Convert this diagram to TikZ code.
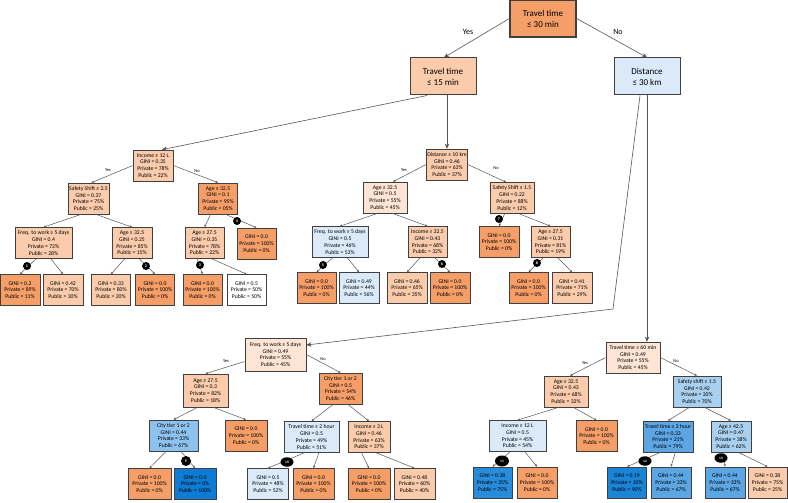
\documentclass[tikz,border=0pt]{standalone}
\usepackage{fontspec}
\setmainfont{Carlito}
\usetikzlibrary{arrows.meta,shapes.geometric}
\definecolor{bordc}{RGB}{64,64,64}
\definecolor{edgec}{RGB}{85,85,85}
\definecolor{dor}{RGB}{246,158,104}
\definecolor{lor}{RGB}{251,204,172}
\definecolor{vlor}{RGB}{253,228,212}
\definecolor{vlb}{RGB}{218,234,248}
\definecolor{lb}{RGB}{170,208,240}
\definecolor{mbl}{RGB}{142,194,238}
\definecolor{mb}{RGB}{92,166,227}
\definecolor{db}{RGB}{14,124,212}
\definecolor{db2}{RGB}{40,140,218}
\definecolor{db3}{RGB}{26,132,215}
\begin{document}
\begin{tikzpicture}[x=1pt,y=-1pt,
 box/.style={draw=bordc, line width=0.7pt, align=center, inner sep=0pt, font=\fontsize{5.7}{6.7}\selectfont, minimum height=31pt},
 bigbox/.style={draw=bordc, line width=1pt, align=center, inner sep=0pt, font=\fontsize{9}{11}\selectfont, minimum width=66pt, minimum height=37pt},
 conn/.style={draw=edgec, line width=0.5pt, -{Stealth[length=2.5pt,width=2.2pt]}},
 bigconn/.style={draw=edgec, line width=0.6pt, -{Stealth[length=5pt,width=4.5pt]}},
 numb/.style={fill=black, circle, inner sep=0pt, minimum size=8pt, text=white, font=\fontsize{4}{4}\selectfont\bfseries},
 numbb/.style={fill=black, ellipse, inner sep=0pt, minimum width=13pt, minimum height=9.5pt, text=white, font=\fontsize{3.5}{4}\selectfont\bfseries},
 lbl/.style={font=\fontsize{8}{9}\selectfont, inner sep=0pt},
 slbl/.style={font=\fontsize{4.5}{5}\selectfont, inner sep=0pt},
]
\useasboundingbox (0,0) rectangle (788,503);
\fill[white] (0,0) rectangle (788,503);

% top
\node[bigbox, fill=dor, line width=1.2pt] (R) at (543,18.5) {Travel time\\≤ 30 min};
\node[bigbox, fill=lor] (A) at (443,76.5) {Travel time\\≤ 15 min};
\node[bigbox, fill=vlb] (B) at (647,76.5) {Distance\\≤ 30 km};

% level 1
\node[box, fill=lor, minimum width=40pt] (C) at (153,165.5) {Income ≤ 12 L\\GINI = 0.35\\Private = 78\%\\Public = 22\%};
\node[box, fill=lor, minimum width=41pt] (D) at (447,164.5) {Distance ≤ 10 km\\GINI = 0.46\\Private = 63\%\\Public = 37\%};

% level 2
\node[box, fill=lor, minimum width=41pt] (E) at (88.5,198.5) {Safety Shift ≤ 2.5\\GINI = 0.37\\Private = 75\%\\Public = 25\%};
\node[box, fill=dor, minimum width=39pt] (F) at (218,198.5) {Age ≤ 32.5\\GINI = 0.1\\Private = 95\%\\Public = 05\%};
\node[box, fill=vlor, minimum width=44pt] (G) at (385,197.5) {Age ≤ 32.5\\GINI = 0.5\\Private = 55\%\\Public = 45\%};
\node[box, fill=lor, minimum width=44pt] (H) at (512,198) {Safety Shift ≤ 1.5\\GINI = 0.22\\Private = 88\%\\Public = 12\%};

% level 3
\node[box, fill=lor, minimum width=57pt] (I) at (43.5,243) {Freq. to work ≤ 5 days\\GINI = 0.4\\Private = 72\%\\Public = 28\%};
\node[box, fill=lor, minimum width=40pt] (J) at (132,243) {Age ≤ 32.5\\GINI = 0.25\\Private = 85\%\\Public = 15\%};
\node[box, fill=lor, minimum width=39pt] (K) at (204.5,243) {Age ≤ 27.5\\GINI = 0.35\\Private = 78\%\\Public = 22\%};
\node[box, fill=dor, minimum width=39pt] (L) at (256.5,243.5) {GINI = 0.0\\Private = 100\%\\Public = 0\%};
\node[box, fill=vlb, minimum width=56pt] (M) at (340,242) {Freq. to work ≤ 5 days\\GINI = 0.5\\Private = 46\%\\Public = 53\%};
\node[box, fill=lor, minimum width=39pt] (N) at (427.5,242) {Income ≤ 32.5\\GINI = 0.43\\Private = 68\%\\Public = 32\%};
\node[box, fill=dor, minimum width=40pt] (O) at (499,242) {GINI = 0.0\\Private = 100\%\\Public = 0\%};
\node[box, fill=lor, minimum width=39pt] (P) at (550.5,242) {Age ≤ 27.5\\GINI = 0.31\\Private = 81\%\\Public = 19\%};

% leaves row upper
\node[box, fill=dor, minimum width=40pt] (Q1) at (20,290) {GINI = 0.2\\Private = 89\%\\Public = 11\%};
\node[box, fill=lor, minimum width=40pt] (Q2) at (63,290) {GINI = 0.42\\Private = 70\%\\Public = 30\%};
\node[box, fill=lor, minimum width=39pt] (Q3) at (111,290) {GINI = 0.33\\Private = 80\%\\Public = 20\%};
\node[box, fill=dor, minimum width=39pt] (Q4) at (155,290) {GINI = 0.0\\Private = 100\%\\Public = 0\%};
\node[box, fill=dor, minimum width=39pt] (Q5) at (202.5,290) {GINI = 0.0\\Private = 100\%\\Public = 0\%};
\node[box, fill=white, minimum width=39pt] (Q6) at (246.5,290) {GINI = 0.5\\Private = 50\%\\Public = 50\%};
\node[box, fill=dor, minimum width=39pt] (Q7) at (316.5,288) {GINI = 0.0\\Private = 100\%\\Public = 0\%};
\node[box, fill=vlb, minimum width=40pt] (Q8) at (359,288) {GINI = 0.49\\Private = 44\%\\Public = 56\%};
\node[box, fill=lor, minimum width=40pt] (Q9) at (407,288) {GINI = 0.46\\Private = 65\%\\Public = 35\%};
\node[box, fill=dor, minimum width=40pt] (Q10) at (450,288) {GINI = 0.0\\Private = 100\%\\Public = 0\%};
\node[box, fill=dor, minimum width=39pt] (Q11) at (528.5,288) {GINI = 0.0\\Private = 100\%\\Public = 0\%};
\node[box, fill=lor, minimum width=40pt] (Q12) at (572,288) {GINI = 0.41\\Private = 71\%\\Public = 29\%};

% bottom subtree
\node[box, fill=vlor, minimum width=61pt, minimum height=33pt] (S) at (275.5,354.5) {Freq. to work ≤ 5 days\\GINI = 0.49\\Private = 55\%\\Public = 45\%};
\node[box, fill=vlor, minimum width=54pt] (T) at (633,357.5) {Travel time ≤ 60 min\\GINI = 0.49\\Private = 55\%\\Public = 45\%};

\node[box, fill=lor, minimum width=45pt, minimum height=33pt] (U) at (205.5,390.5) {Age ≤ 27.5\\GINI = 0.3\\Private = 82\%\\Public = 18\%};
\node[box, fill=dor, minimum width=43pt] (V) at (340.5,388.5) {City tier 1 or 2\\GINI = 0.5\\Private = 54\%\\Public = 46\%};
\node[box, fill=lor, minimum width=44pt] (W) at (566,391.5) {Age ≤ 32.5\\GINI = 0.43\\Private = 68\%\\Public = 32\%};
\node[box, fill=lb, minimum width=48pt] (X) at (697,391.5) {Safety shift ≤ 1.5\\GINI = 0.42\\Private = 30\%\\Public = 70\%};

\node[box, fill=mbl, minimum width=49pt] (Y1) at (173.5,435.5) {City tier 1 or 2\\GINI = 0.44\\Private = 33\%\\Public = 67\%};
\node[box, fill=dor, minimum width=42pt] (Y2) at (246,435.5) {GINI = 0.0\\Private = 100\%\\Public = 0\%};
\node[box, fill=vlb, minimum width=55pt] (Y3) at (311.5,437) {Travel time ≤ 2 hour\\GINI = 0.5\\Private = 49\%\\Public = 51\%};
\node[box, fill=lor, minimum width=42pt] (Y4) at (369,437) {Income ≤ 3 L\\GINI = 0.46\\Private = 63\%\\Public = 37\%};
\node[box, fill=vlb, minimum width=57pt] (Y5) at (517.5,436) {Income ≤ 12 L\\GINI = 0.5\\Private = 45\%\\Public = 54\%};
\node[box, fill=dor, minimum width=41pt] (Y6) at (596.5,436) {GINI = 0.0\\Private = 100\%\\Public = 0\%};
\node[box, fill=mb, minimum width=50pt] (Y7) at (668,436.5) {Travel time ≤ 2 hour\\GINI = 0.33\\Private = 21\%\\Public = 79\%};
\node[box, fill=lb, minimum width=40pt] (Y8) at (731,436.5) {Age ≤ 42.5\\GINI = 0.47\\Private = 38\%\\Public = 62\%};

\node[box, fill=dor, minimum width=43pt] (Z1) at (149.5,484) {GINI = 0.0\\Private = 100\%\\Public = 0\%};
\node[box, fill=db, minimum width=42pt] (Z2) at (195,484) {GINI = 0.0\\Private = 0\%\\Public = 100\%};
\node[box, fill=vlb, minimum width=41pt] (Z3) at (268,484) {GINI = 0.5\\Private = 48\%\\Public = 52\%};
\node[box, fill=dor, minimum width=41pt] (Z4) at (313.5,484) {GINI = 0.0\\Private = 100\%\\Public = 0\%};
\node[box, fill=dor, minimum width=42pt] (Z5) at (369,484) {GINI = 0.0\\Private = 100\%\\Public = 0\%};
\node[box, fill=lor, minimum width=41pt] (Z6) at (414.5,484) {GINI = 0.48\\Private = 60\%\\Public = 40\%};
\node[box, fill=db2, minimum width=39pt] (Z7) at (492.5,482.5) {GINI = 0.38\\Private = 25\%\\Public = 75\%};
\node[box, fill=dor, minimum width=40pt] (Z8) at (537,482.5) {GINI = 0.0\\Private = 100\%\\Public = 0\%};
\node[box, fill=db3, minimum width=39pt] (Z9) at (627,482.5) {GINI = 0.19\\Private = 10\%\\Public = 90\%};
\node[box, fill=mb, minimum width=40pt] (Z10) at (671,482.5) {GINI = 0.44\\Private = 33\%\\Public = 67\%};
\node[box, fill=mb, minimum width=40pt] (Z11) at (725,482.5) {GINI = 0.44\\Private = 33\%\\Public = 67\%};
\node[box, fill=lor, minimum width=39pt] (Z12) at (767.5,482.5) {GINI = 0.38\\Private = 75\%\\Public = 25\%};

% top connectors
\draw[bigconn] (R.west) -- ([xshift=1pt]A.north);
\draw[bigconn] (R.east) -- (B.north);
\node[lbl] (yes0) at (468,32) {Yes};
\node[lbl] (no0) at (618,32) {No};
\draw[bigconn] ([xshift=-16pt]A.south) -- ([xshift=9pt]C.north);
\draw[bigconn] (A.south -| D.north) -- (D.north);
\coordinate (bend) at (613,309);
\draw[bigconn] ([xshift=-7pt]B.south) -- (bend) -- ([yshift=9.5pt]S.east);
\draw[bigconn] (B.south) -- (B.south |- T.north);

% level connectors
\draw[conn] (C.west) -- ([xshift=3pt]E.north);
\draw[conn] (C.east) -- (F.north);
\draw[conn] (D.west) -- ([xshift=8pt]G.north);
\draw[conn] (D.east) -- ([xshift=-6pt]H.north);
\node[slbl] (y1) at (108,170) {Yes};
\node[slbl] (n1) at (197,171) {No};
\node[slbl] (y2) at (404,170) {Yes};
\node[slbl] (n2) at (496,168) {No};

\foreach \p/\l/\r in {E/I/J, F/K/L, G/M/N, H/O/P, I/Q1/Q2, J/Q3/Q4, K/Q5/Q6, M/Q7/Q8, N/Q9/Q10, P/Q11/Q12,
  U/Y1/Y2, V/Y3/Y4, W/Y5/Y6, X/Y7/Y8, Y1/Z1/Z2, Y3/Z3/Z4, Y4/Z5/Z6, Y5/Z7/Z8, Y7/Z9/Z10, Y8/Z11/Z12}{
  \draw[conn] (\p.-115) -- (\l.north);
  \draw[conn] (\p.-65) -- (\r.north);
}

\draw[conn] ([yshift=-7pt]S.west) -- (U.north);
\draw[conn] (S.east) -- (V.north);
\draw[conn] (T.west) -- ([xshift=4pt]W.north);
\draw[conn] (T.east) -- (X.north);
\node[slbl] (y3) at (226,361) {Yes};
\node[slbl] (n3) at (323,359) {No};
\node[slbl] (y4) at (585,363) {Yes};
\node[slbl] (n4) at (676,361) {No};

% badges
\node[numb] (b1) at (27,266) {1};
\node[numb] (b2) at (146,266) {2};
\node[numb] (b3) at (200,265) {3};
\node[numb] (b4) at (237,221) {4};
\node[numb] (b5) at (323,265) {5};
\node[numb] (b6) at (442,264) {6};
\node[numb] (b7) at (499,219) {7};
\node[numb] (b8) at (537,263) {8};
\node[numb, minimum size=10pt] (b9) at (186,461) {9};
\node[numbb] (b10) at (287,462) {10};
\node[numbb, minimum width=14pt, minimum height=11pt] (b11) at (502,461) {11};
\node[numbb] (b12) at (645,461) {12};
\node[numbb] (b13) at (721,458) {13};
\end{tikzpicture}
\end{document}
